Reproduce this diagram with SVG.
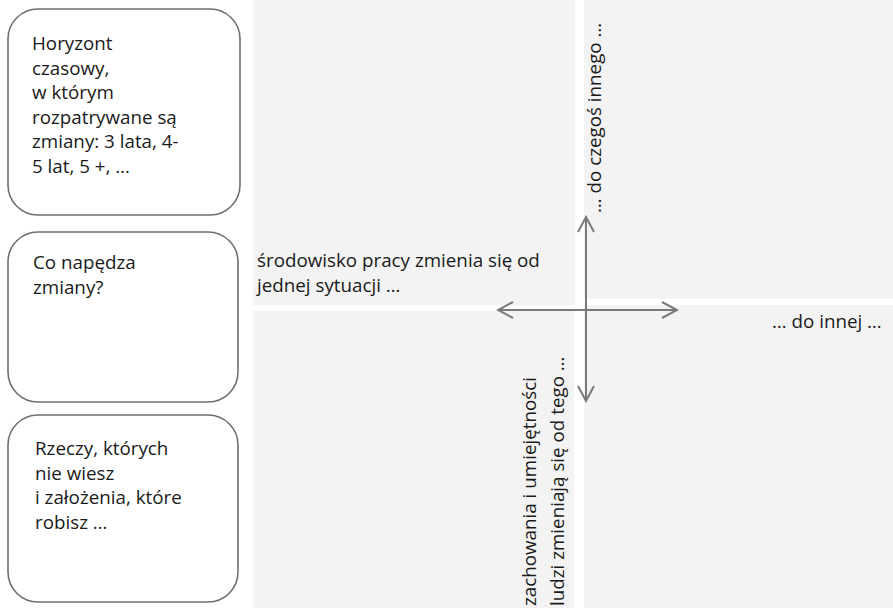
<svg xmlns="http://www.w3.org/2000/svg" width="893" height="608" viewBox="0 0 893 608">
<defs>
<style>
.q{fill:#f3f3f3}
.box{fill:#fff;stroke:#6f6f6f;stroke-width:1.6}
.t{font-family:"Open Sans","Liberation Sans",sans-serif;font-size:18.8px;fill:#1a1a1a}
.ax{stroke:#7a7a7a;stroke-width:2;fill:none}
</style>
<marker id="ah" viewBox="0 0 20 20" refX="18" refY="10" markerWidth="20" markerHeight="20" markerUnits="userSpaceOnUse" orient="auto-start-reverse">
<path d="M3,2 L18,10 L3,18" fill="none" stroke="#7a7a7a" stroke-width="2"/>
</marker>
</defs>
<rect width="893" height="608" fill="#fff"/>
<g id="quadrants">
<rect class="q" x="253" y="0" width="322" height="305"/>
<rect class="q" x="584" y="0" width="309" height="299"/>
<rect class="q" x="253" y="311" width="321" height="297"/>
<rect class="q" x="584" y="305" width="309" height="303"/>
</g>
<g id="box1">
<rect class="box" x="8" y="9" width="232" height="206" rx="30"/>
<text class="t"><tspan x="32" y="50">Horyzont</tspan><tspan x="32" y="74.5">czasowy,</tspan><tspan x="32" y="99">w którym</tspan><tspan x="32" y="123.5">rozpatrywane są</tspan><tspan x="32" y="148">zmiany: 3 lata, 4-</tspan><tspan x="32" y="172.5">5 lat, 5 +, …</tspan></text>
</g>
<g id="box2">
<rect class="box" x="8" y="232" width="230" height="170" rx="30"/>
<text class="t"><tspan x="33" y="269">Co napędza</tspan><tspan x="33" y="294">zmiany?</tspan></text>
</g>
<g id="box3">
<rect class="box" x="8" y="415" width="230" height="187" rx="30"/>
<text class="t"><tspan x="35" y="455">Rzeczy, których</tspan><tspan x="35" y="479.5">nie wiesz</tspan><tspan x="35" y="504">i założenia, które</tspan><tspan x="35" y="528.5">robisz …</tspan></text>
</g>
<g id="connectors">
<line class="ax" x1="498" y1="310" x2="677" y2="310" marker-start="url(#ah)" marker-end="url(#ah)"/>
<line class="ax" x1="586" y1="217" x2="586" y2="401" marker-start="url(#ah)" marker-end="url(#ah)"/>
</g>
<g id="labels">
<text class="t"><tspan x="257" y="267">środowisko pracy zmienia się od</tspan><tspan x="257" y="292">jednej sytuacji …</tspan></text>
<text class="t" x="772" y="328">… do innej …</text>
<text class="t" transform="translate(601,213) rotate(-90)">… do czegoś innego …</text>
<text class="t" transform="translate(536,606) rotate(-90)">zachowania i umiejętności</text>
<text class="t" transform="translate(564,606) rotate(-90)">ludzi zmieniają się od tego …</text>
</g>
</svg>
